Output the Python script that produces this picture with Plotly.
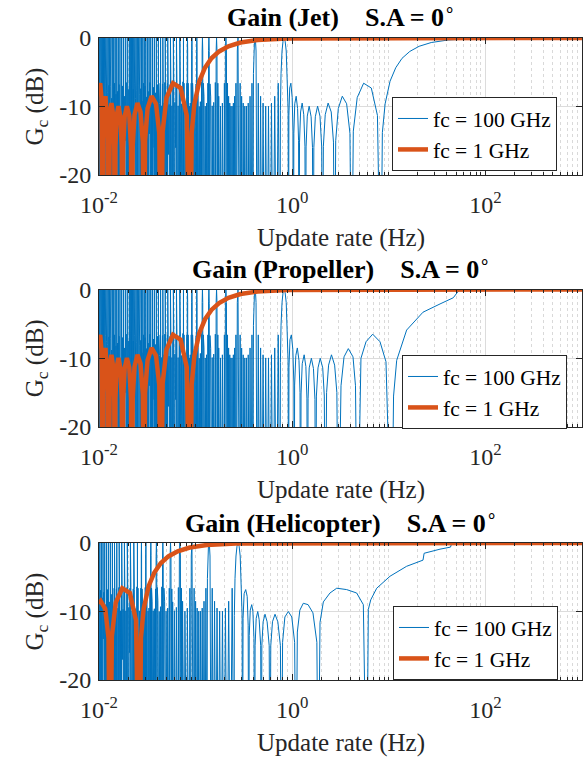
import plotly.graph_objects as go

# ---------------- data (update rate in Hz, gain in dB) ----------------
# fc = 1 GHz (orange) : Jet and Propeller share the same curve
orange_jp_f = [1000, 100, 4.375, 0.875, 0.4375, 0.2917, 0.2188, 0.175, 0.1458, 0.125, 0.1094, 0.0972, 0.0911, 0.0875,
               0.081, 0.07, 0.0583, 0.05, 0.0456, 0.04375,
               0.04207, 0.03889, 0.035, 0.03182, 0.02997, 0.02917,
               0.02841, 0.02692, 0.025, 0.02333, 0.02232, 0.021875,
               0.02145, 0.02059, 0.01944, 0.01842, 0.01778, 0.0175,
               0.01722, 0.01667, 0.01591, 0.01522, 0.01478, 0.01458,
               0.01439, 0.014, 0.01346, 0.01296, 0.01264, 0.0125,
               0.01236, 0.01207, 0.01167, 0.01129, 0.01105, 0.01094,
               0.01083, 0.01061, 0.01029, 0.01]
orange_jp_db = [0, 0, 0, -0.07, -0.29, -0.66, -1.21, -1.96, -2.97, -4.34, -6.31, -9.61, -13.8, -40,
                -11.3, -7.3, -6.6, -8.7, -13.6, -40,
                -13.9, -9.6, -8.5, -10.3, -15.0, -40,
                -15.2, -10.8, -9.5, -11.2, -15.8, -40,
                -15.9, -11.4, -9.95, -11.5, -16.0, -40,
                -16.0, -11.5, -9.95, -11.4, -15.9, -40,
                -15.8, -11.2, -9.5, -10.8, -15.2, -40,
                -15.0, -10.3, -8.5, -9.6, -13.9, -40,
                -13.6, -8.7, -6.6, -7.3]

orange_heli_f = [1000, 100, 1.305, 0.261, 0.1305, 0.087, 0.06525, 0.0522, 0.0435, 0.03729, 0.03263, 0.029, 0.02719, 0.0261,
                 0.02417, 0.02088, 0.0174, 0.01491, 0.01359, 0.01305,
                 0.01255, 0.0116, 0.01044, 0.01]
orange_heli_db = [0, 0, 0, -0.07, -0.29, -0.66, -1.21, -1.96, -2.97, -4.34, -6.31, -9.61, -13.8, -40,
                  -11.3, -7.3, -6.6, -8.7, -13.6, -40,
                  -13.9, -9.6, -8.5, -8.9]

# fc = 100 GHz (blue), high update-rate part
jet_hi_f = [1000, 412, 82.4, 41.2, 27.5, 20.6, 16.5, 13.7, 11.8, 10.3, 9.16, 8.58, 8.24,
            7.63, 6.59, 5.49, 4.71, 4.29, 4.12,
            3.96, 3.66, 3.30, 3.00, 2.82, 2.75,
            2.675, 2.535, 2.354, 2.197, 2.102, 2.06,
            2.02, 1.939, 1.831, 1.735, 1.675, 1.648,
            1.622, 1.570, 1.498, 1.433, 1.392, 1.373,
            1.355, 1.318, 1.268, 1.221, 1.191, 1.177,
            1.164, 1.137, 1.099, 1.063, 1.040, 1.030,
            1.020, 0.999, 0.969, 0.942, 0.924, 0.916]
jet_hi_db = [0, 0, -0.07, -0.29, -0.66, -1.21, -1.96, -2.97, -4.34, -6.31, -9.61, -13.8, -40,
             -11.3, -7.3, -6.6, -8.7, -13.6, -40,
             -13.9, -9.6, -8.5, -10.3, -15.0, -40,
             -15.2, -10.8, -9.5, -11.2, -15.8, -40,
             -15.9, -11.4, -9.95, -11.5, -16.0, -40,
             -16.0, -11.5, -9.95, -11.4, -15.9, -40,
             -15.8, -11.2, -9.5, -10.8, -15.2, -40,
             -15.0, -10.3, -8.5, -9.6, -13.9, -40,
             -13.6, -8.7, -6.6, -7.3, -11.3, -40]

prop_hi_f = [1000, 55, 52.4, 46.5, 33.9, 22.6, 15.3, 12.07, 11.2, 10.7,
             9.35, 8.11, 6.81, 5.81, 5.15, 4.72,
             4.52, 4.26, 3.81, 3.44, 3.2, 3.0,
             2.9, 2.75, 2.55, 2.38, 2.27, 2.2,
             2.15, 2.07, 1.95, 1.85, 1.78, 1.75,
             1.72, 1.66, 1.58, 1.5, 1.46, 1.44,
             1.42, 1.385, 1.33, 1.27, 1.235, 1.22,
             1.205, 1.175, 1.13, 1.09, 1.06, 1.05,
             1.04, 1.015, 0.98, 0.948, 0.926, 0.916]
prop_hi_db = [0, 0, -0.25, -1.2, -2.1, -3.3, -5.9, -10.3, -15.5, -40,
              -10.5, -7.6, -6.5, -7.6, -10.0, -40,
              -14.0, -9.8, -8.6, -9.8, -14.0, -40,
              -15.0, -11.0, -9.5, -11.0, -15.0, -40,
              -15.5, -11.4, -10.0, -11.4, -15.5, -40,
              -16.0, -11.5, -10.0, -11.4, -15.9, -40,
              -15.8, -11.2, -9.5, -10.8, -15.2, -40,
              -15.0, -10.3, -8.5, -9.6, -13.9, -40,
              -13.6, -8.7, -6.6, -7.3, -11.3, -40]

heli_hi_f = [1000, 48.4, 44.5, 43.5, 33.9, 23.2, 22.6, 15.3, 10.3, 7.5, 6.5, 6.14, 5.9,
             5.45, 4.65, 3.66, 2.89, 2.46, 2.10, 1.94, 1.862,
             1.80, 1.64, 1.46, 1.303, 1.2, 1.13, 1.095,
             1.06, 0.99, 0.912, 0.84, 0.795, 0.775,
             0.755, 0.71, 0.664, 0.625, 0.6, 0.589,
             0.578, 0.55, 0.523, 0.5, 0.485, 0.479,
             0.472, 0.455, 0.44, 0.424, 0.413, 0.409,
             0.402, 0.392, 0.381, 0.368, 0.359, 0.355,
             0.35, 0.342, 0.330, 0.318, 0.31, 0.306]
heli_hi_db = [0, 0, -0.2, -0.6, -0.9, -1.5, -2.5, -3.4, -4.85, -6.6, -8.3, -9.7, -40,
              -9.0, -7.3, -6.8, -6.6, -7.3, -8.6, -11.6, -40,
              -14.5, -10.2, -9.0, -8.8, -9.8, -13.0, -40,
              -14.5, -10.8, -10.0, -10.8, -14.5, -40,
              -15.0, -11.5, -10.4, -11.5, -15.0, -40,
              -15.0, -11.5, -10.4, -11.5, -15.0, -40,
              -15.0, -11.2, -10.0, -11.0, -15.0, -40,
              -14.0, -10.0, -9.0, -9.8, -13.5, -40,
              -12.0, -7.8, -6.8, -7.4, -11.0, -40]

# fc = 100 GHz (blue), dense low update-rate part shared by Jet and Propeller
lo_a_f = [0.9075, 0.8908, 0.8674, 0.8451, 0.824, 0.8039, 0.7848, 0.7665, 0.7546, 0.7491,
          0.7165, 0.6867, 0.6592, 0.6338, 0.6104, 0.5886, 0.5683, 0.5493, 0.5316, 0.515, 0.4994, 0.4847, 0.4709, 0.4578, 0.4454, 0.4337,
          0.4281, 0.4226, 0.4172, 0.412, 0.4069, 0.402, 0.3971, 0.3924,
          0.3833, 0.3745, 0.3662, 0.3583, 0.3506, 0.3433, 0.3363, 0.3296, 0.3231, 0.3169, 0.3109, 0.3052, 0.2996, 0.2943, 0.2891, 0.2841,
          0.2793, 0.2747, 0.2702, 0.2658,
          0.2616, 0.2575, 0.2535, 0.2497, 0.246, 0.2424, 0.2388, 0.2354, 0.2321, 0.2289, 0.2258, 0.2227, 0.2197, 0.2168, 0.214, 0.2113,
          0.2086, 0.206, 0.2035, 0.201]
lo_a_db = [-10.6, -5.2, -1.9, -0.46, 0, -0.46, -1.9, -5.2, -10.6, -40,
           -6.6, -40, -8.5, -40, -9.5, -40, -9.95, -40, -9.95, -40, -9.5, -40, -8.5, -40, -6.6, -40,
           -5.2, -1.9, -0.46, 0, -0.46, -1.9, -5.2, -40,
           -6.6, -40, -8.5, -40, -9.5, -40, -9.95, -40, -9.95, -40, -9.5, -40, -8.5, -40, -6.6, -40,
           -1.9, 0, -1.9, -40,
           -6.6, -40, -8.5, -40, -9.5, -40, -9.95, -40, -9.95, -40, -9.5, -40, -8.5, -40, -6.6, -40,
           -1.9, 0, -1.9, -40]

lo_b_f = [0.1986, 0.1962, 0.1894, 0.1873, 0.1811, 0.1791, 0.1735, 0.1717, 0.1699, 0.1682, 0.1665, 0.1648, 0.1632, 0.1616,
          0.16, 0.1585, 0.154, 0.1526, 0.1485, 0.1471, 0.1433, 0.1421, 0.1409, 0.1397, 0.1385, 0.1373, 0.1362, 0.1351,
          0.134, 0.1329, 0.1298, 0.1288, 0.1258, 0.1248, 0.1221, 0.1212, 0.1203, 0.1194, 0.1186, 0.1177, 0.1169, 0.1161,
          0.1152, 0.1144, 0.1121, 0.1114, 0.1091, 0.1084, 0.1063, 0.1056, 0.105, 0.1043, 0.1036, 0.103, 0.1024, 0.1017,
          0.1011, 0.1005, 0.0987, 0.0981, 0.0964, 0.0958, 0.0942, 0.0936, 0.0931, 0.0926, 0.0921, 0.0916, 0.091, 0.0905,
          0.0901, 0.0896, 0.0881, 0.0877, 0.0863, 0.0858, 0.0845, 0.0841, 0.0837, 0.0832, 0.0828, 0.0824, 0.082, 0.0816]
lo_b_db = [-6.6, -40, -9.5, -40, -9.95, -40, -8.5, -40, -6.6, -40, -1.9, 0, -1.9, -40,
           -6.5, -40, -9.4, -40, -9.9, -40, -8.6, -40, -6.7, -40, -2.0, 0, -1.8, -40,
           -6.6, -40, -9.5, -40, -9.95, -40, -8.5, -40, -6.6, -40, -1.9, 0, -1.9, -40,
           -6.4, -40, -9.3, -40, -10.0, -40, -8.4, -40, -6.5, -40, -1.9, 0, -2.0, -40,
           -6.7, -40, -9.6, -40, -9.9, -40, -8.6, -40, -6.6, -40, -1.8, 0, -1.9, -40,
           -6.6, -40, -9.5, -40, -9.95, -40, -8.5, -40, -6.6, -40, -1.9, 0, -1.9, -40]

lo_c_f = [0.0812, 0.08, 0.0785, 0.077, 0.0759, 0.0756, 0.0749, 0.0742,
          0.0739, 0.0729, 0.0717, 0.0704, 0.0695, 0.0692, 0.0687, 0.0681,
          0.0678, 0.067, 0.0659, 0.0649, 0.0641, 0.0639, 0.0634, 0.0629,
          0.0627, 0.062, 0.061, 0.0601, 0.0595, 0.0593, 0.0589, 0.0584,
          0.0582, 0.0576, 0.0568, 0.0561, 0.0555, 0.0553, 0.0549, 0.0546,
          0.0544, 0.0539, 0.0532, 0.0525, 0.052, 0.0518, 0.0515, 0.0512,
          0.051, 0.0506, 0.0499, 0.0493, 0.0489, 0.0488, 0.0485, 0.0482,
          0.048, 0.0476, 0.0471, 0.0466, 0.0462, 0.046, 0.0458, 0.0455,
          0.0454, 0.045, 0.0445, 0.0441, 0.0437, 0.0436, 0.0434, 0.0431,
          0.043, 0.0427, 0.0423, 0.0418, 0.0415, 0.0414, 0.0412, 0.0409]
lo_c_db = [-6.6, -40, -9.9, -40, -6.6, -40, 0, -40,
           -6.4, -40, -9.6, -40, -6.8, -40, 0, -40,
           -6.7, -40, -9.9, -40, -6.5, -40, 0, -40,
           -6.6, -16, -9.4, -40, -6.6, -40, 0, -40,
           -6.5, -40, -9.9, -40, -6.7, -40, 0, -40,
           -6.8, -40, -9.7, -17, -6.6, -40, 0, -40,
           -6.6, -40, -9.9, -40, -6.4, -40, 0, -40,
           -6.5, -40, -9.5, -40, -6.6, -40, 0, -40,
           -6.7, -15, -9.9, -40, -6.6, -40, 0, -40,
           -6.6, -40, -9.6, -40, -6.8, -40, 0, -40]

lo_d_f = [0.0402, 0.0395, 0.03924, 0.03896,
          0.03833, 0.03771, 0.03745, 0.0372,
          0.03662, 0.03606, 0.03583, 0.03559,
          0.03506, 0.03455, 0.03433, 0.03412,
          0.03363, 0.03316, 0.03296, 0.03276,
          0.03231, 0.03188, 0.03169, 0.03151,
          0.03109, 0.03069, 0.03052, 0.03035,
          0.02996, 0.02959, 0.02943, 0.02927,
          0.02891, 0.02856, 0.02841, 0.02827,
          0.02793, 0.0276, 0.02747, 0.02733,
          0.02702, 0.02671, 0.02658, 0.02645,
          0.02616, 0.02587, 0.02575, 0.02563,
          0.02535, 0.02508, 0.02497, 0.02486,
          0.0246, 0.02434, 0.02424, 0.02413,
          0.02388, 0.02364, 0.02354, 0.02344,
          0.02321, 0.02298, 0.02289, 0.02279,
          0.02258, 0.02236, 0.02227, 0.02218,
          0.02197, 0.02177, 0.02168, 0.0216,
          0.0214, 0.02121, 0.02113, 0.02105,
          0.02086, 0.02068, 0.0206, 0.0204]
lo_d_db = [-6.8, -40, 0, -40,
           -8.0, -40, 0, -16,
           -7.2, -40, 0, -40,
           -9.0, -40, 0, -40,
           -6.5, -14, 0, -40,
           -7.8, -40, 0, -40,
           -8.6, -40, 0, -17,
           -7.0, -40, 0, -40,
           -6.6, -40, 0, -40,
           -9.2, -15, 0, -40,
           -7.4, -40, 0, -40,
           -8.2, -40, 0, -40,
           -6.9, -40, 0, -16,
           -7.7, -40, 0, -40,
           -8.8, -40, 0, -40,
           -6.7, -13, 0, -40,
           -7.5, -40, 0, -40,
           -8.3, -40, 0, -40,
           -7.1, -40, 0, -17,
           -6.6, -40, 0, -40]

lo_e_f = [0.0201, 0.01981, 0.01962, 0.01943,
          0.01916, 0.0189, 0.01873, 0.01856,
          0.01831, 0.01807, 0.01791, 0.01776,
          0.01753, 0.01731, 0.01717, 0.01702,
          0.01682, 0.01661, 0.01648, 0.01635,
          0.01616, 0.01597, 0.01585, 0.01573,
          0.01555, 0.01537, 0.01526, 0.01515,
          0.01498, 0.01482, 0.01471, 0.01461,
          0.01446, 0.01431, 0.01421, 0.01411,
          0.01397, 0.01383, 0.01373, 0.01364,
          0.01351, 0.01338, 0.01329, 0.01321,
          0.01308, 0.01296, 0.01288, 0.0128,
          0.01268, 0.01256, 0.01248, 0.01241,
          0.0123, 0.01219, 0.01212, 0.01205,
          0.01194, 0.01184, 0.01177, 0.0117,
          0.01161, 0.01151, 0.01144, 0.01138,
          0.01129, 0.0112, 0.01114, 0.01108,
          0.01099, 0.0109, 0.01084, 0.01079,
          0.0107, 0.01062, 0.01056, 0.01051,
          0.01043, 0.01035, 0.0103, 0.01025,
          0.01017, 0.0101, 0.01005, 0.01]
lo_e_db = [-7.5, -40, 0, -40,
           -6.5, -15, 0, -40,
           -8.5, -40, 0, -40,
           -7.0, -40, 0, -16,
           -9.0, -40, 0, -40,
           -6.8, -40, 0, -40,
           -7.8, -14, 0, -40,
           -8.2, -40, 0, -40,
           -6.6, -40, 0, -17,
           -7.4, -40, 0, -40,
           -8.8, -40, 0, -40,
           -7.1, -16, 0, -40,
           -6.9, -40, 0, -40,
           -8.0, -40, 0, -15,
           -7.6, -40, 0, -40,
           -6.7, -40, 0, -40,
           -8.4, -13, 0, -40,
           -7.2, -40, 0, -40,
           -9.1, -40, 0, -16,
           -6.8, -40, 0, -40,
           -7.3, -40, 0, -40]

# Helicopter dense low update-rate part
hlo_a_f = [0.303, 0.297, 0.2895, 0.2821, 0.275, 0.2683, 0.2619, 0.2558, 0.2518, 0.25,
           0.2391, 0.2292, 0.22, 0.2115, 0.2037, 0.1964, 0.1897, 0.1833, 0.1774, 0.1719, 0.1667, 0.1618, 0.1571, 0.1528, 0.1486, 0.1447,
           0.1429, 0.141, 0.1392, 0.1375, 0.1358, 0.1341, 0.1325, 0.131,
           0.1279, 0.125, 0.1222, 0.1196, 0.117, 0.1146, 0.1122, 0.11, 0.1078, 0.1058, 0.1038, 0.1019, 0.1, 0.0982, 0.0965, 0.0948,
           0.0932, 0.0917, 0.0902, 0.0887]
hlo_a_db = [-10.6, -5.2, -1.9, -0.46, 0, -0.46, -1.9, -5.2, -10.6, -40,
            -6.6, -40, -8.5, -40, -9.5, -40, -9.95, -40, -9.95, -40, -9.5, -40, -8.5, -40, -6.6, -40,
            -5.2, -1.9, -0.46, 0, -0.46, -1.9, -5.2, -40,
            -6.6, -40, -8.5, -40, -9.5, -40, -9.95, -40, -9.95, -40, -9.5, -40, -8.5, -40, -6.6, -40,
            -1.9, 0, -1.9, -40]

hlo_b_f = [0.0873, 0.0859, 0.0821, 0.0809, 0.0775, 0.0764, 0.0733, 0.0724, 0.0714, 0.0705, 0.0696, 0.0688, 0.0679, 0.0671,
           0.0663, 0.0655, 0.0632, 0.0625, 0.0604, 0.0598, 0.0579, 0.0573, 0.0567, 0.0561, 0.0556, 0.055, 0.0545, 0.0539,
           0.0534, 0.0529, 0.0514, 0.0509, 0.0495, 0.0491, 0.0478, 0.0474, 0.047, 0.0466, 0.0462, 0.0458, 0.0455, 0.0451,
           0.0447, 0.0444, 0.0433, 0.043, 0.042, 0.0417, 0.0407, 0.0404, 0.0401, 0.0399, 0.0396, 0.0393, 0.039, 0.0387,
           0.0385, 0.0382, 0.0374, 0.0372, 0.0364, 0.0362, 0.0355, 0.0353, 0.035, 0.0348, 0.0346, 0.0344, 0.0342, 0.034,
           0.0337, 0.0335, 0.0329, 0.0327, 0.0322, 0.032, 0.0314, 0.0313, 0.0311, 0.0309, 0.0307, 0.0306, 0.0304, 0.0302,
           0.0301, 0.0299, 0.0294, 0.0293, 0.0288, 0.0286, 0.0282, 0.0281, 0.0279, 0.0278, 0.0276, 0.0275, 0.0274, 0.0272]
hlo_b_db = [-6.6, -40, -9.5, -40, -9.95, -40, -8.5, -40, -6.6, -40, -1.9, 0, -1.9, -40,
            -6.5, -40, -9.4, -40, -9.9, -40, -8.6, -40, -6.7, -40, -2.0, 0, -1.8, -40,
            -6.6, -40, -9.5, -40, -9.95, -40, -8.5, -40, -6.6, -40, -1.9, 0, -1.9, -40,
            -6.4, -40, -9.3, -40, -10.0, -40, -8.4, -40, -6.5, -40, -1.9, 0, -2.0, -40,
            -6.7, -40, -9.6, -40, -9.9, -40, -8.6, -40, -6.6, -40, -1.8, 0, -1.9, -40,
            -6.6, -40, -9.5, -40, -9.95, -40, -8.5, -40, -6.6, -40, -1.9, 0, -1.9, -40,
            -6.5, -40, -9.6, -40, -9.9, -40, -8.5, -40, -6.7, -40, -1.9, 0, -1.9, -40]

hlo_c_f = [0.02709, 0.0267, 0.02619, 0.0257, 0.02535, 0.02523, 0.025, 0.02477,
           0.02466, 0.02434, 0.02391, 0.0235, 0.02321, 0.02311, 0.02292, 0.02273,
           0.02263, 0.02236, 0.022, 0.02165, 0.0214, 0.02132, 0.02115, 0.02099,
           0.02091, 0.02068, 0.02037, 0.02007, 0.01986, 0.01978, 0.01964, 0.0195,
           0.01943, 0.01923, 0.01897, 0.01871, 0.01852, 0.01846, 0.01833, 0.01821,
           0.01815, 0.01797, 0.01774, 0.01752, 0.01735, 0.0173, 0.01719, 0.01708,
           0.01703, 0.01687, 0.01667, 0.01647, 0.01632, 0.01627, 0.01618, 0.01608,
           0.01603, 0.0159, 0.01571, 0.01554, 0.01541, 0.01536, 0.01528, 0.01519,
           0.01515, 0.01503, 0.01486, 0.01471, 0.01459, 0.01455, 0.01447, 0.0144,
           0.01436, 0.01425, 0.0141, 0.01396, 0.01385, 0.01382, 0.01375, 0.01365]
hlo_c_db = [-6.6, -40, -9.9, -40, -6.6, -40, 0, -40,
            -6.4, -40, -9.6, -40, -6.8, -40, 0, -40,
            -6.7, -40, -9.9, -40, -6.5, -40, 0, -40,
            -6.6, -16, -9.4, -40, -6.6, -40, 0, -40,
            -6.5, -40, -9.9, -40, -6.7, -40, 0, -40,
            -6.8, -40, -9.7, -17, -6.6, -40, 0, -40,
            -6.6, -40, -9.9, -40, -6.4, -40, 0, -40,
            -6.5, -40, -9.5, -40, -6.6, -40, 0, -40,
            -6.7, -15, -9.9, -40, -6.6, -40, 0, -40,
            -6.6, -40, -9.6, -40, -6.8, -40, 0, -40]

hlo_d_f = [0.01341, 0.01319, 0.0131, 0.01301,
           0.01279, 0.01259, 0.0125, 0.01242,
           0.01222, 0.01204, 0.01196, 0.01188,
           0.0117, 0.01153, 0.01146, 0.01139,
           0.01122, 0.01107, 0.011, 0.01093,
           0.01078, 0.01064, 0.01058, 0.01052,
           0.01038, 0.01024, 0.01019, 0.01013,
           0.01]
hlo_d_db = [-7.5, -40, 0, -40,
            -8.6, -40, 0, -16,
            -6.8, -40, 0, -40,
            -9.0, -40, 0, -40,
            -7.2, -14, 0, -40,
            -8.0, -40, 0, -40,
            -6.9, -40, 0, -40,
            -8.5]

titles = ["Gain (Jet)", "Gain (Propeller)", "Gain (Helicopter)"]
series_names = ["fc = 100 GHz", "fc = 1 GHz"]
x_tick_vals = [0.01, 1, 100]
x_tick_text = ["10<sup>-2</sup>", "10<sup>0</sup>", "10<sup>2</sup>"]
y_tick_vals = [-20, -10, 0]
y_tick_text = ["-20", "-10", "0"]

# ---------------- assemble ----------------
blue_f = [jet_hi_f + lo_a_f + lo_b_f + lo_c_f + lo_d_f + lo_e_f,
          prop_hi_f + lo_a_f + lo_b_f + lo_c_f + lo_d_f + lo_e_f,
          heli_hi_f + hlo_a_f + hlo_b_f + hlo_c_f + hlo_d_f]
blue_db = [jet_hi_db + lo_a_db + lo_b_db + lo_c_db + lo_d_db + lo_e_db,
           prop_hi_db + lo_a_db + lo_b_db + lo_c_db + lo_d_db + lo_e_db,
           heli_hi_db + hlo_a_db + hlo_b_db + hlo_c_db + hlo_d_db]
orange_f = [orange_jp_f, orange_jp_f, orange_heli_f]
orange_db = [orange_jp_db, orange_jp_db, orange_heli_db]
for a, b in zip(blue_f + orange_f, blue_db + orange_db):
    assert len(a) == len(b), (len(a), len(b))

W, H = 588, 761
FONT = "Liberation Serif"
BLUE = "#0072BD"
ORANGE = "#D95319"
AXC = "#262626"

# plot area boxes in pixels (top, bottom)
boxes = [(38, 175), (289.5, 427), (543, 680)]
x_left, x_right = 99, 582
legend_pos = [(392, 97), (402, 355), (393, 606)]

minor_vals = []
for d in [0.01, 0.1, 1, 10, 100]:
    for k in range(1, 10):
        v = d * k
        if v not in x_tick_vals:
            minor_vals.append(v)
minor_vals.append(1000)

fig = go.Figure()
annotations = []
for i in range(3):
    xa = "x" if i == 0 else f"x{i+1}"
    ya = "y" if i == 0 else f"y{i+1}"
    lg = "legend" if i == 0 else f"legend{i+1}"
    fig.add_trace(go.Scatter(x=blue_f[i], y=blue_db[i], mode="lines", name=series_names[0],
                             line=dict(color=BLUE, width=1), xaxis=xa, yaxis=ya, legend=lg))
    fig.add_trace(go.Scatter(x=orange_f[i], y=orange_db[i], mode="lines", name=series_names[1],
                             line=dict(color=ORANGE, width=4.5), xaxis=xa, yaxis=ya, legend=lg))
    top, bot = boxes[i]
    ydom = [1 - bot / H, 1 - top / H]
    xkey = "xaxis" if i == 0 else f"xaxis{i+1}"
    ykey = "yaxis" if i == 0 else f"yaxis{i+1}"
    fig.layout[xkey] = dict(
        type="log", range=[-2, 3], domain=[x_left / W, x_right / W], anchor=ya, automargin=False,
        tickmode="array", tickvals=x_tick_vals, ticktext=x_tick_text, ticklabelstandoff=8,
        ticks="inside", ticklen=6, tickcolor=AXC, showline=True, linecolor=AXC, linewidth=1,
        mirror="ticks", showgrid=True, gridcolor="#dcdcdc", gridwidth=1, zeroline=False,
        tickfont=dict(family=FONT, size=24, color=AXC),
        minor=dict(tickmode="array", tickvals=minor_vals, ticks="inside", ticklen=3, tickcolor=AXC,
                   showgrid=True, gridcolor="#d9d9d9", griddash="dot", gridwidth=1),
    )
    fig.layout[ykey] = dict(
        range=[-20, 0], domain=ydom, anchor=xa, automargin=False,
        tickmode="array", tickvals=y_tick_vals, ticktext=y_tick_text, ticklabelstandoff=2,
        ticks="inside", ticklen=6, tickcolor=AXC, showline=True, linecolor=AXC, linewidth=1,
        mirror="ticks", showgrid=True, gridcolor="#dcdcdc", gridwidth=1, zeroline=False,
        tickfont=dict(family=FONT, size=24, color=AXC),
    )
    lx, ly = legend_pos[i]
    fig.layout[lg] = dict(x=lx / W, y=1 - ly / H, xanchor="left", yanchor="top",
                          bgcolor="white", bordercolor=AXC, borderwidth=1, entrywidth=122,
                          font=dict(family=FONT, size=21.5, color="#000000"), tracegroupgap=0)
    cx = (x_left + x_right) / 2 / W
    sp = "\u00a0" * 4
    annotations.append(dict(text="<b>" + titles[i] + sp + "S.A = 0</b><sup>\u2218</sup>",
                            x=cx, y=1 - (top - 22) / H, xref="paper", yref="paper",
                            showarrow=False, xanchor="center", yanchor="middle",
                            font=dict(family=FONT, size=26, color="#000000")))
    annotations.append(dict(text="Update rate (Hz)", x=cx, y=1 - (bot + 63) / H,
                            xref="paper", yref="paper", showarrow=False,
                            xanchor="center", yanchor="middle",
                            font=dict(family=FONT, size=25, color=AXC)))
    annotations.append(dict(text="G<sub>c</sub> (dB)", x=36 / W, y=1 - (top + bot) / 2 / H,
                            xref="paper", yref="paper", showarrow=False, textangle=-90,
                            xanchor="center", yanchor="middle",
                            font=dict(family=FONT, size=25, color=AXC)))

fig.update_layout(width=W, height=H, margin=dict(l=0, r=0, t=0, b=0),
                  paper_bgcolor="white", plot_bgcolor="white",
                  annotations=annotations, showlegend=True)
fig.write_html("out.html", config={"displayModeBar": False},
               post_script="document.body.style.margin='0px';")
